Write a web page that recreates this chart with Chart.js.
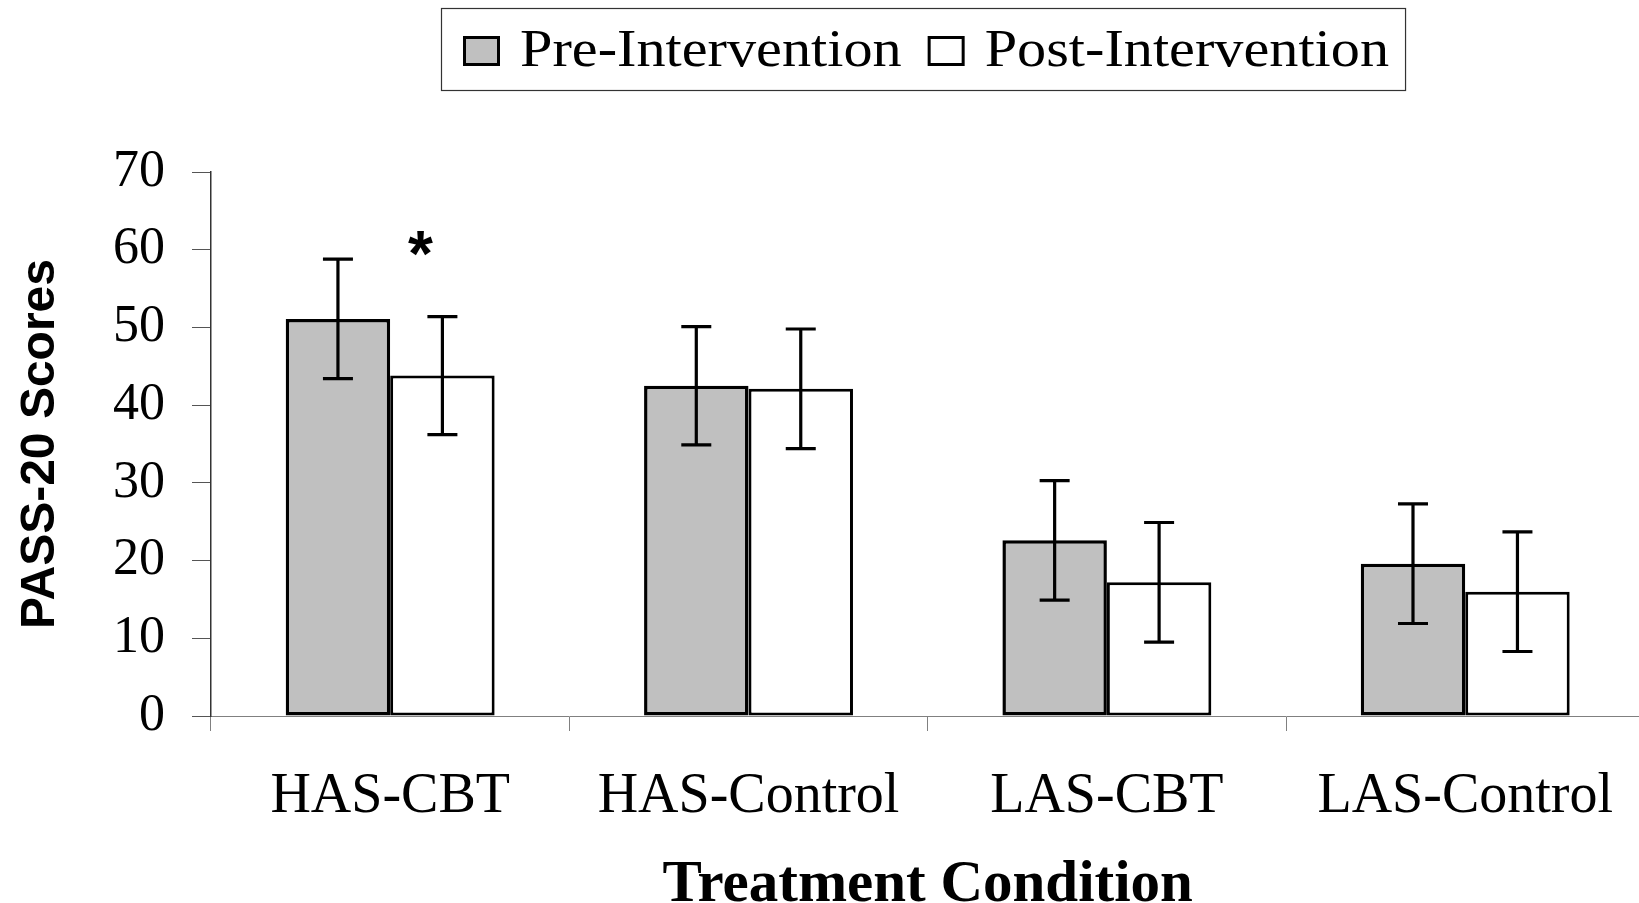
<!DOCTYPE html>
<html><head><meta charset="utf-8">
<script src="https://cdn.jsdelivr.net/npm/chart.js@4.4.1/dist/chart.umd.min.js"></script>
<style>html,body{margin:0;padding:0;background:#fff;overflow:hidden}#wrap{width:1639px;height:903px;overflow:hidden}</style>
</head><body><div id="wrap"><canvas id="c" width="1646" height="903"></canvas></div>
<script>
const categories = ['HAS-CBT', 'HAS-Control', 'LAS-CBT', 'LAS-Control'];
const seriesNames = ['Pre-Intervention', 'Post-Intervention'];
const preMeans = [51.1, 42.5, 22.6, 19.6];
const postMeans = [43.8, 42.1, 17.2, 16.0];
const preErr = [7.7, 7.6, 7.7, 7.7];
const postErr = [7.6, 7.7, 7.7, 7.7];
const yTicks = [0, 10, 20, 30, 40, 50, 60, 70];
const sigCategory = [0];
const sigSeries = [1];
const sigLevel = [60.8];
const sigText = ['*'];

const fills = ['#c0c0c0', '#ffffff'];
const serif = '"Liberation Serif", "Times New Roman", serif';
const sans = '"Liberation Sans", Arial, sans-serif';

const errorBars = {
  id: 'errorBars',
  afterDatasetsDraw(chart) {
    const ctx = chart.ctx, y = chart.scales.y;
    const means = [preMeans, postMeans], errs = [preErr, postErr];
    chart.data.datasets.forEach((ds, di) => {
      const meta = chart.getDatasetMeta(di);
      meta.data.forEach((bar, i) => {
        const x = bar.x;
        const top = y.getPixelForValue(means[di][i] + errs[di][i]);
        const bot = y.getPixelForValue(means[di][i] - errs[di][i]);
        ctx.save();
        ctx.strokeStyle = '#000'; ctx.lineWidth = 3.2; ctx.lineCap = 'butt';
        ctx.beginPath();
        ctx.moveTo(x, top); ctx.lineTo(x, bot);
        ctx.moveTo(x - 15, top); ctx.lineTo(x + 15, top);
        ctx.moveTo(x - 15, bot); ctx.lineTo(x + 15, bot);
        ctx.stroke();
        ctx.restore();
      });
    });
    sigCategory.forEach((c, k) => {
      const bar = chart.getDatasetMeta(sigSeries[k]).data[c];
      ctx.save();
      ctx.font = 'bold 64px ' + sans;
      ctx.fillStyle = '#000';
      ctx.textAlign = 'center';
      ctx.textBaseline = 'alphabetic';
      const m = ctx.measureText(sigText[k]);
      const yc = y.getPixelForValue(sigLevel[k]);
      const off = (m.actualBoundingBoxAscent - m.actualBoundingBoxDescent) / 2;
      ctx.fillText(sigText[k], bar.x - 22, yc + off);
      ctx.restore();
    });
  }
};

const legendBox = {
  id: 'legendBox',
  afterDraw(chart) {
    const ctx = chart.ctx;
    const sx = 1.12, sw = 37, sh = 30, gapT = 20, gapI = 26, padL = 22, padR = 16;
    ctx.save();
    ctx.font = '52px ' + serif;
    const widths = seriesNames.map(t => ctx.measureText(t).width * sx);
    const total = padL + widths.reduce((a, w) => a + sw + gapT + w, 0) + gapI * (widths.length - 1) + padR;
    const cx = 923;
    const left = Math.round(cx - total / 2), top = 8, h = 82;
    ctx.strokeStyle = '#333'; ctx.lineWidth = 1.2;
    ctx.strokeRect(left + 0.5, top + 0.5, total, h);
    let x = left + padL;
    const base = 66;
    seriesNames.forEach((t, i) => {
      ctx.fillStyle = fills[i];
      ctx.fillRect(x, 36, sw, sh);
      ctx.strokeStyle = '#000'; ctx.lineWidth = 3;
      ctx.strokeRect(x + 1.5, 36 + 1.5, sw - 3, sh - 3);
      x += sw + gapT;
      ctx.save();
      ctx.translate(x, base); ctx.scale(sx, 1);
      ctx.fillStyle = '#000'; ctx.textBaseline = 'alphabetic'; ctx.textAlign = 'left';
      ctx.fillText(t, 0, 0);
      ctx.restore();
      x += widths[i] + gapI;
    });
    ctx.restore();
  }
};

new Chart(document.getElementById('c'), {
  type: 'bar',
  data: {
    labels: categories,
    datasets: [
      { label: seriesNames[0], data: preMeans, backgroundColor: fills[0], borderColor: '#000', borderWidth: 3.5, borderSkipped: false, categoryPercentage: 0.583, barPercentage: 1 },
      { label: seriesNames[1], data: postMeans, backgroundColor: fills[1], borderColor: '#000', borderWidth: 3, borderSkipped: false, categoryPercentage: 0.583, barPercentage: 1 }
    ]
  },
  options: {
    responsive: false,
    animation: false,
    devicePixelRatio: 1,
    layout: { padding: { top: 172, left: 0, right: 0, bottom: 0 } },
    plugins: { legend: { display: false }, tooltip: { enabled: false } },
    scales: {
      x: {
        afterFit(s) { s.height = 187; },
        grid: { display: true, offset: true, drawOnChartArea: false, drawTicks: true, tickLength: 15, color: '#808080', lineWidth: 1 },
        border: { display: true, color: '#808080', width: 1 },
        ticks: { font: { family: serif, size: 56 }, color: '#000', padding: 33, maxRotation: 0, autoSkip: false },
        title: { display: true, text: 'Treatment Condition', color: '#000', font: { family: serif, size: 59, weight: 'bold', lineHeight: 1.2 }, padding: { top: 14, bottom: -18 } }
      },
      y: {
        min: 0, max: 70,
        afterFit(s) { s.width = 211; },
        afterBuildTicks(s) { s.ticks = yTicks.map(v => ({ value: v })); },
        grid: { drawOnChartArea: false, drawTicks: true, tickLength: 19, color: '#555', lineWidth: 1 },
        border: { display: true, color: '#333', width: 1.5 },
        ticks: { font: { family: serif, size: 52 }, color: '#000', padding: 27 },
        title: { display: true, text: 'PASS-20 Scores', color: '#000', font: { family: sans, size: 48, weight: 'bold', lineHeight: 1.2 }, padding: { top: 12, bottom: 0 } }
      }
    }
  },
  plugins: [errorBars, legendBox]
});
</script>
</body></html>
